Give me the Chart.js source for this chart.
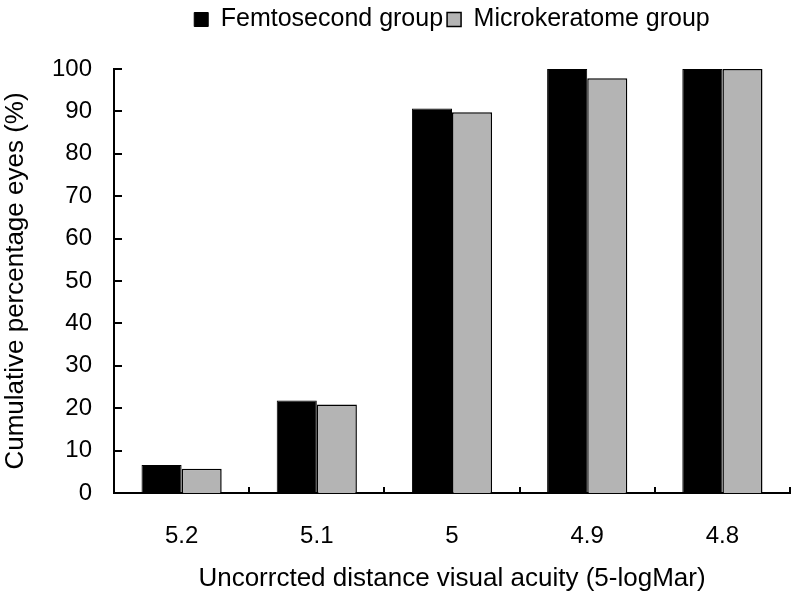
<!DOCTYPE html>
<html>
<head>
<meta charset="utf-8">
<script src="https://cdn.jsdelivr.net/npm/chart.js@4/dist/chart.umd.min.js"></script>
<style>
html,body{margin:0;padding:0;background:#fff;}
#wrap{width:799px;height:598px;}
</style>
</head>
<body>
<div id="wrap"><canvas id="c" width="799" height="598"></canvas></div>
<script>
const categories = ["5.2", "5.1", "5", "4.9", "4.8"];
const femtosecond = [6.6, 21.8, 90.7, 100, 100];
const microkeratome = [5.7, 20.9, 89.8, 97.8, 100];
const yTicks = [0, 10, 20, 30, 40, 50, 60, 70, 80, 90, 100];
const seriesNames = ["Femtosecond group", "Microkeratome group"];

const FONT = "'Liberation Sans', Arial, Helvetica, sans-serif";
const TOP_PAD = 3;
const CHART_TOP = 69;

const legendSpacer = {
  id: 'legendSpacer',
  afterInit(chart) {
    const lg = chart.legend;
    if (!lg || lg._spaced) return;
    const orig = lg.fit.bind(lg);
    lg.fit = function () {
      orig();
      this.height = CHART_TOP - TOP_PAD;
    };
    lg._spaced = true;
  }
};

const inwardTicks = {
  id: 'inwardTicks',
  afterDraw(chart) {
    const ctx = chart.ctx;
    const x = chart.scales.x, y = chart.scales.y;
    ctx.save();
    ctx.strokeStyle = '#000';
    ctx.lineWidth = 2;
    ctx.beginPath();
    yTicks.forEach(v => {
      const py = Math.round(y.getPixelForValue(v));
      ctx.moveTo(x.left, py);
      ctx.lineTo(x.left + 8, py);
    });
    for (let i = 0; i < categories.length; i++) {
      let px;
      if (i < categories.length - 1) {
        px = (x.getPixelForValue(i) + x.getPixelForValue(i + 1)) / 2;
      } else {
        px = x.right;
      }
      px = Math.round(px);
      ctx.moveTo(px, y.bottom);
      ctx.lineTo(px, y.bottom - 6);
    }
    ctx.stroke();
    ctx.restore();
  }
};

new Chart(document.getElementById('c'), {
  type: 'bar',
  data: {
    labels: categories,
    datasets: [
      { label: seriesNames[0], data: femtosecond, backgroundColor: '#000000', borderColor: '#000000', borderWidth: 1 },
      { label: seriesNames[1], data: microkeratome, backgroundColor: '#b4b4b4', borderColor: '#000000', borderWidth: 1.5 }
    ]
  },
  options: {
    responsive: false,
    animation: false,
    devicePixelRatio: 1,
    layout: { padding: { left: 0, right: 9, top: TOP_PAD, bottom: 0 } },
    datasets: { bar: { categoryPercentage: 0.593, barPercentage: 1.0 } },
    plugins: {
      legend: {
        display: true,
        position: 'top',
        fullSize: false,
        align: 'center',
        labels: {
          color: '#000',
          font: { family: FONT, size: 25 },
          boxWidth: 14,
          boxHeight: 14,
          padding: 4
        }
      },
      tooltip: { enabled: false }
    },
    scales: {
      x: {
        grid: { display: false, drawTicks: false },
        border: { display: true, color: '#000', width: 2 },
        ticks: { color: '#000', font: { family: FONT, size: 24 }, padding: 29 },
        title: { display: true, text: 'Uncorrcted distance visual acuity (5-logMar)', color: '#000', font: { family: FONT, size: 26 }, padding: { top: 10, bottom: 4 } },
        afterFit(s) { s.height = 105; }
      },
      y: {
        min: 0, max: 100,
        grid: { display: false, drawTicks: false },
        border: { display: true, color: '#000', width: 2 },
        ticks: { stepSize: 10, color: '#000', font: { family: FONT, size: 24 }, padding: 22 },
        title: { display: true, text: 'Cumulative percentage eyes (%)', color: '#000', font: { family: FONT, size: 26 }, padding: { top: 0, bottom: 4 } },
        afterFit(s) { s.width = 114; }
      }
    }
  },
  plugins: [legendSpacer, inwardTicks]
});
</script>
</body>
</html>
